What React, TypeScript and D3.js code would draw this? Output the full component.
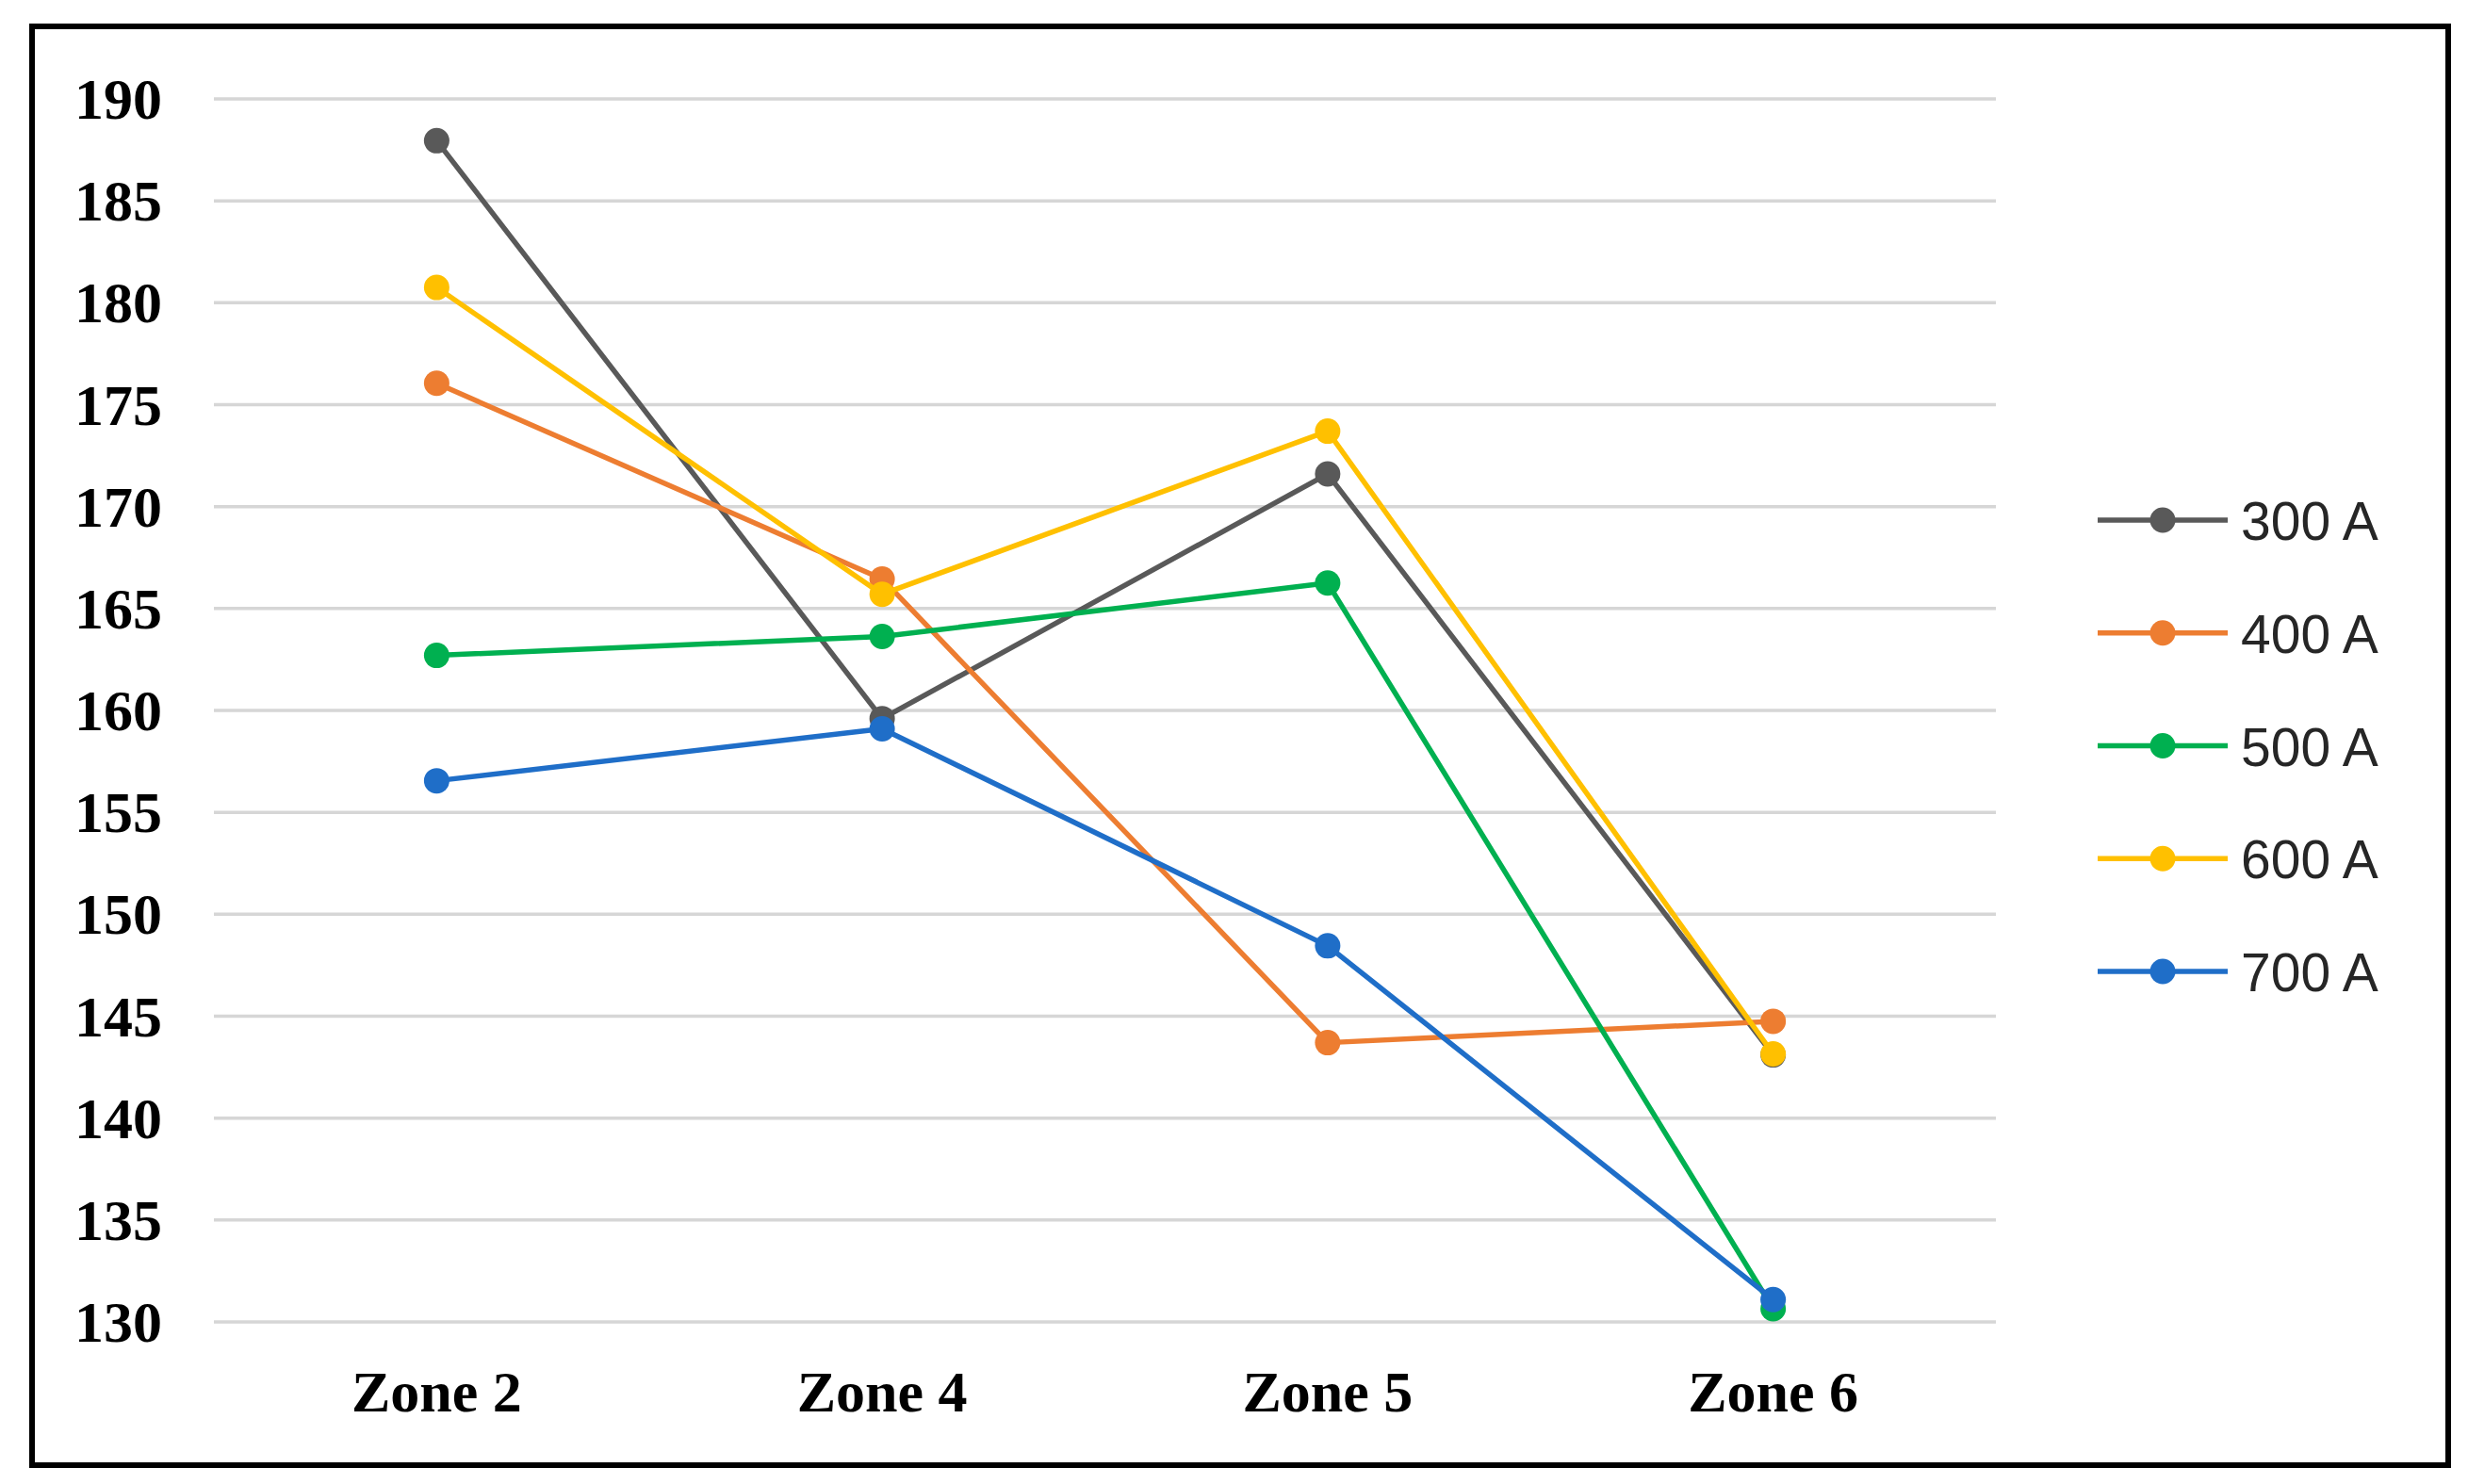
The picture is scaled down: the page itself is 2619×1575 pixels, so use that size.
import React from "react";
import * as d3 from "d3";

const zones = ["Zone 2", "Zone 4", "Zone 5", "Zone 6"];
const yTicks = [130, 135, 140, 145, 150, 155, 160, 165, 170, 175, 180, 185, 190];
const seriesNames = ["300 A", "400 A", "500 A", "600 A", "700 A"];
const seriesColors = ["#595959", "#ED7D31", "#00B050", "#FFC000", "#1F6EC8"];
const s300 = [187.95, 159.6, 171.6, 143.1];
const s400 = [176.05, 166.45, 143.7, 144.75];
const s500 = [162.7, 163.63, 166.25, 130.65];
const s600 = [180.75, 165.7, 173.7, 143.15];
const s700 = [156.55, 159.1, 148.45, 131.1];
const seriesValues = [s300, s400, s500, s600, s700];

const W = 2619;
const H = 1575;
const plotLeft = 227;
const plotRight = 2118;
const plotTop = 105;
const plotBottom = 1403;

export default function App() {
  const x = d3.scalePoint<string>().domain(zones).range([plotLeft, plotRight]).padding(0.5);
  const y = d3.scaleLinear().domain([130, 190]).range([plotBottom, plotTop]);
  const line = d3
    .line<number>()
    .x((_, i) => x(zones[i]) as number)
    .y((d) => y(d));

  const legendY = d3.scaleLinear().domain([0, 4]).range([552, 1031]);
  const legX0 = 2226;
  const legX1 = 2364;

  return (
    <svg
      width={W}
      height={H}
      style={{ position: "absolute", left: 0, top: 0, background: "#fff" }}
    >
      <rect x={0} y={0} width={W} height={H} fill="#fff" />
      <rect x={34} y={28} width={2564} height={1527} fill="none" stroke="#000" strokeWidth={6} />
      {yTicks.map((t) => (
        <g key={t}>
          <line x1={plotLeft} x2={plotRight} y1={y(t)} y2={y(t)} stroke="#d6d6d6" strokeWidth={3.5} />
          <text
            x={172}
            y={y(t) + 21}
            textAnchor="end"
            fontFamily="'Liberation Serif', 'Times New Roman', serif"
            fontWeight="bold"
            fontSize={62}
            fill="#000"
          >
            {t}
          </text>
        </g>
      ))}
      {zones.map((z) => (
        <text
          key={z}
          x={x(z)}
          y={1498}
          textAnchor="middle"
          fontFamily="'Liberation Serif', 'Times New Roman', serif"
          fontWeight="bold"
          fontSize={62}
          fill="#000"
        >
          {z}
        </text>
      ))}
      {seriesValues.map((vals, si) => (
        <g key={seriesNames[si]}>
          <path
            d={line(vals) as string}
            fill="none"
            stroke={seriesColors[si]}
            strokeWidth={5.5}
            strokeLinejoin="round"
          />
          {vals.map((v, i) => (
            <circle key={i} cx={x(zones[i])} cy={y(v)} r={13.5} fill={seriesColors[si]} />
          ))}
        </g>
      ))}
      {seriesNames.map((n, si) => (
        <g key={n}>
          <line
            x1={legX0}
            x2={legX1}
            y1={legendY(si)}
            y2={legendY(si)}
            stroke={seriesColors[si]}
            strokeWidth={5.5}
          />
          <circle cx={(legX0 + legX1) / 2} cy={legendY(si)} r={13.5} fill={seriesColors[si]} />
          <text
            x={2378}
            y={legendY(si) + 21}
            fontFamily="'Liberation Sans', Arial, sans-serif"
            fontSize={57}
            fill="#262626"
          >
            {n}
          </text>
        </g>
      ))}
    </svg>
  );
}
